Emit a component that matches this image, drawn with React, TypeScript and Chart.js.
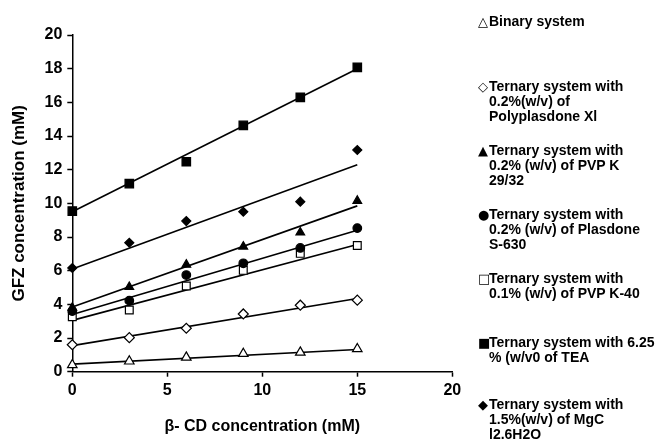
import React, { useEffect, useRef } from "react";
import { Chart, registerables } from "chart.js";

Chart.register(...registerables);

// β-CD concentration (mM)
const xValues = [0, 3, 6, 9, 12, 15];
// GFZ concentration (mM) per system
const binary = [0.4, 0.62, 0.85, 1.07, 1.15, 1.35];
const polyplasdone = [1.6, 2.02, 2.58, 3.43, 3.95, 4.25];
const pvpK2932 = [3.8, 5.03, 6.36, 7.43, 8.27, 10.15];
const plasdone = [3.6, 4.22, 5.74, 6.44, 7.35, 8.53];
const pvpK40 = [3.27, 3.66, 5.09, 6.02, 7.03, 7.5];
const tea = [9.54, 11.17, 12.47, 14.63, 16.3, 18.08];
const mgcl = [6.16, 7.66, 8.95, 9.5, 10.1, 13.17];

// linear trend lines (value at x=0 and x=15)
const trendX = [0, 15];
const binaryTrend = [0.45, 1.32];
const polyplasdoneTrend = [1.55, 4.35];
const pvpK2932Trend = [3.85, 9.85];
const plasdoneTrend = [3.4, 8.4];
const pvpK40Trend = [3.05, 7.55];
const teaTrend = [9.5, 18.0];
const mgclTrend = [6.1, 12.3];

const xTicks = [0, 5, 10, 15, 20];
const yTicks = [0, 2, 4, 6, 8, 10, 12, 14, 16, 18, 20];

const legendSymbols = ["△", "◇", "▲", "●", "□", "■", "◆"];
const legendLabels = [
  ["Binary system"],
  ["Ternary system with", "0.2%(w/v) of", "Polyplasdone Xl"],
  ["Ternary system with", "0.2% (w/v) of PVP K", "29/32"],
  ["Ternary system with", "0.2% (w/v) of Plasdone", "S-630"],
  ["Ternary system with", "0.1% (w/v) of PVP K-40"],
  ["Ternary system with 6.25", "% (w/v0 of TEA"],
  ["Ternary system with", "1.5%(w/v) of MgC", "l2.6H2O"],
];

const pts = (ys: number[], xs: number[]) => ys.map((y, i) => ({ x: xs[i], y }));

export default function App() {
  const ref = useRef<HTMLCanvasElement>(null);

  useEffect(() => {
    if (!ref.current) return;
    const markerSets = [
      { data: binary, style: "triangle", open: true, r: 5.5 },
      { data: polyplasdone, style: "rectRot", open: true, r: 5 },
      { data: pvpK2932, style: "triangle", open: false, r: 5 },
      { data: plasdone, style: "circle", open: false, r: 4.3 },
      { data: pvpK40, style: "rect", open: true, r: 5.5 },
      { data: tea, style: "rect", open: false, r: 6 },
      { data: mgcl, style: "rectRot", open: false, r: 4.5 },
    ];
    const trends = [binaryTrend, polyplasdoneTrend, pvpK2932Trend, plasdoneTrend, pvpK40Trend, teaTrend, mgclTrend];

    const datasets: any[] = [];
    markerSets.forEach((m) => {
      datasets.push({
        type: "scatter",
        data: pts(m.data, xValues),
        pointStyle: m.style,
        pointRadius: m.r,
        pointBackgroundColor: m.open ? "#ffffff" : "#000000",
        pointBorderColor: "#000000",
        pointBorderWidth: 1.2,
        showLine: false,
        clip: false,
        order: 0,
      });
    });
    trends.forEach((t) => {
      datasets.push({
        type: "line",
        data: pts(t, trendX),
        borderColor: "#000000",
        borderWidth: 1.6,
        pointRadius: 0,
        showLine: true,
        fill: false,
        clip: false,
        order: 1,
      });
    });

    const tickFont = { family: "Arial, 'Liberation Sans', sans-serif", size: 16, weight: "bold" as const };
    const xTitleFont = { family: "Arial, 'Liberation Sans', sans-serif", size: 16, weight: "bold" as const };
    const yTitleFont = { family: "Arial, 'Liberation Sans', sans-serif", size: 17, weight: "bold" as const };

    const chart = new Chart(ref.current, {
      type: "scatter",
      data: { datasets },
      options: {
        animation: false,
        responsive: false,
        layout: { padding: { left: 0, top: 35, right: 202.7, bottom: 0 } },
        plugins: { legend: { display: false }, tooltip: { enabled: false } },
        scales: {
          x: {
            type: "linear",
            min: 0,
            max: 20,
            afterFit: (s: any) => { s.height = 74.3; },
            afterBuildTicks: (s: any) => { s.ticks = xTicks.map((v) => ({ value: v })); },
            ticks: { color: "#000", font: tickFont, padding: 4 },
            grid: { display: true, drawOnChartArea: false, drawTicks: true, tickLength: 5, tickColor: "#000", tickWidth: 1.5 },
            border: { display: true, color: "#000", width: 1.5 },
            title: { display: true, text: "β- CD concentration (mM)", color: "#000", font: xTitleFont, padding: { top: 0, bottom: 10 } },
          },
          y: {
            type: "linear",
            min: 0,
            max: 20,
            afterFit: (s: any) => { s.width = 72.3; },
            afterBuildTicks: (s: any) => { s.ticks = yTicks.map((v) => ({ value: v })); },
            ticks: { color: "#000", font: tickFont, padding: 5 },
            grid: { display: true, drawOnChartArea: false, drawTicks: true, tickLength: 5, tickColor: "#000", tickWidth: 1.5 },
            border: { display: true, color: "#000", width: 1.5 },
            title: { display: true, text: "GFZ concentration (mM)", color: "#000", font: yTitleFont, padding: { top: 9, bottom: 0 } },
          },
        },
      },
    });
    return () => chart.destroy();
  }, []);

  const entryTops = [21.5, 86, 150, 214, 278, 342, 404];
  const lineH = 15;

  return (
    <div style={{ position: "fixed", left: 0, top: 0, width: 655, height: 446, background: "#fff", overflow: "hidden" }}>
      <canvas ref={ref} width={655} height={446} style={{ position: "absolute", left: 0, top: 0 }} />
      {legendLabels.map((lines, i) => (
        <div key={i} style={{ position: "absolute", left: 478, top: entryTops[i] - lineH / 2, fontFamily: "Arial, 'Liberation Sans', sans-serif", fontWeight: "bold", fontSize: 14, lineHeight: lineH + "px", color: "#000", whiteSpace: "nowrap" }}>
          <span style={{ position: "absolute", left: 0, top: 0, fontSize: 13, fontFamily: "'DejaVu Sans', sans-serif" }}>{legendSymbols[i]}</span>
          <div style={{ marginLeft: 11 }}>
            {lines.map((l, j) => (
              <div key={j}>{l}</div>
            ))}
          </div>
        </div>
      ))}
    </div>
  );
}
